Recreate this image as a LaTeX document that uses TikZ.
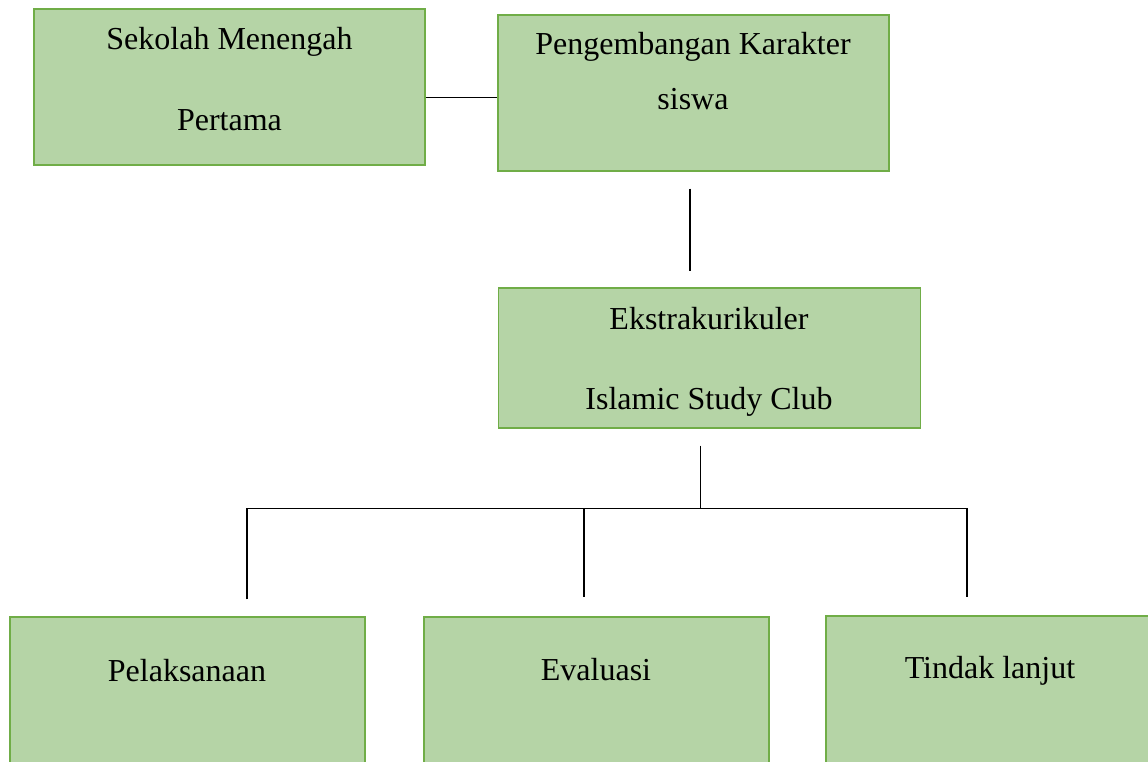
\documentclass[tikz,border=0pt]{standalone}
\usepackage{fontspec}
\setmainfont{Liberation Serif}
\usepackage{tikz}
\usetikzlibrary{
  positioning,
  calc
}
\definecolor{boxfill}{RGB}{181,212,166}
\definecolor{boxline}{RGB}{112,173,71}

\begin{document}
\begin{tikzpicture}[x=1pt,y=-1pt,
      greenbox/.style={
         rectangle,
         inner sep=0pt,
         line width=1.2pt,
         draw=boxline,
         fill=boxfill
      },
      boxtext/.style={
         anchor=base,
         inner sep=0pt,
         font=\fontsize{32}{38}\selectfont
      },
      link/.style={draw=black,line width=1.3pt}
    ]
    \useasboundingbox (0,0) rectangle (1148,762);
    \clip (0,0) rectangle (1148,762);
    % upper row
    \node (smp) [greenbox, minimum width=391pt, minimum height=156pt] at (229.5,87) {};
    \node (pk) [greenbox, minimum width=391pt, minimum height=156pt] at (693.5,93) {};
    \node (eks) [greenbox, minimum width=422pt, minimum height=140pt] at (709.5,358) {};
    % lower row, cut by the page edge
    \node (plk) [greenbox, minimum width=355pt, minimum height=183pt] at (187.5,708.5) {};
    \node (evl) [greenbox, minimum width=345pt, minimum height=183pt] at (596.5,708.5) {};
    \node (tl) [greenbox, minimum width=328pt, minimum height=184pt] at (990,708) {};
    % texts
    \node (smp1) [boxtext] at (229.5,50) {Sekolah Menengah};
    \node (smp2) [boxtext] at (229.5,131) {Pertama};
    \node (pk1) [boxtext] at (693,55) {Pengembangan Karakter};
    \node (pk2) [boxtext] at (693,110) {siswa};
    \node (eks1) [boxtext] at (709,329) {Ekstrakurikuler};
    \node (eks2) [boxtext] at (709,409) {Islamic Study Club};
    \node (plk1) [boxtext] at (187,681) {Pelaksanaan};
    \node (evl1) [boxtext] at (596,680) {Evaluasi};
    \node (tl1) [boxtext] at (990,678) {Tindak lanjut};
    % connectors
    \coordinate (cab) at (700.5,508.5);
    \coordinate (left) at (247,508.5);
    \coordinate (mid) at (584,508.5);
    \coordinate (right) at (967,508.5);
    \draw[link] ([yshift=-10.5pt]smp.east) -- ([yshift=-10.5pt]smp.east -| pk.west);
    \draw[link] ([xshift=-3.5pt,yshift=-17pt]pk.south) -- ([xshift=-19.5pt,yshift=16pt]eks.north);
    \draw[link] ([xshift=-9pt,yshift=-17pt]eks.south) -- (cab);
    \draw[link] ([yshift=17pt]plk.north -| left) -- (left) -- (right) -- ([yshift=18pt]tl.north -| right);
    \draw[link] (mid) -- ([yshift=19pt]evl.north -| mid);
\end{tikzpicture}
\end{document}
